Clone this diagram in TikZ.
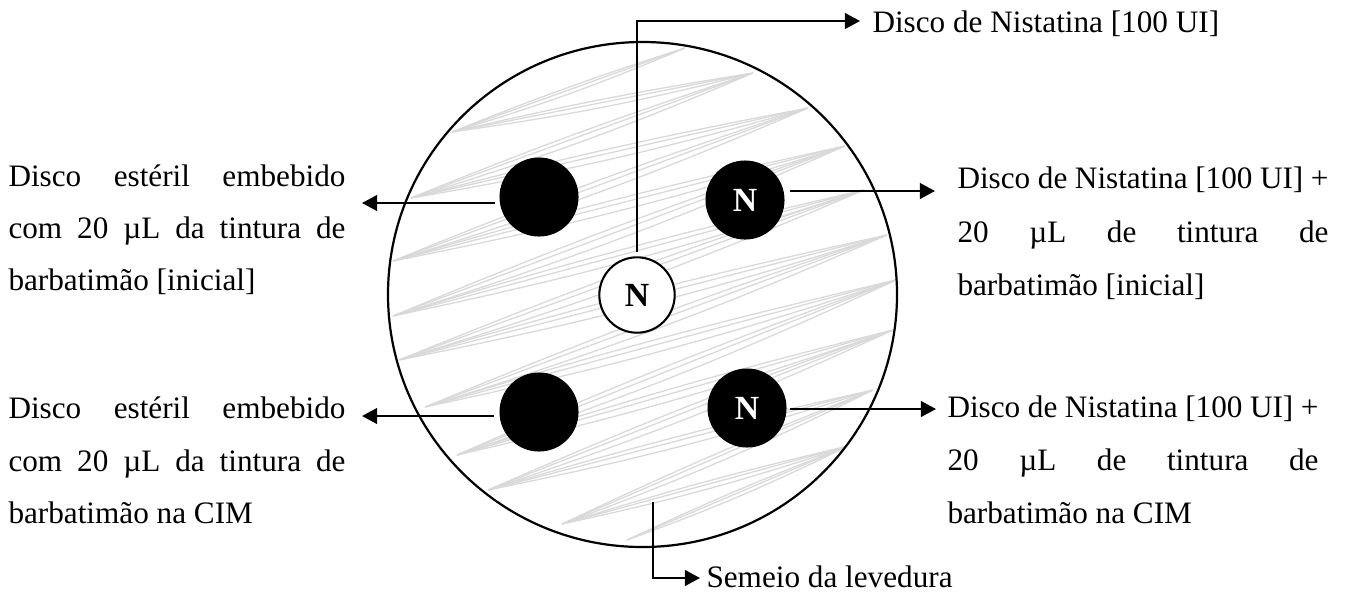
\documentclass[tikz,border=0pt]{standalone}
\usepackage{fontspec}
\setmainfont{Liberation Serif}
\usetikzlibrary{arrows.meta}
\begin{document}
\begin{tikzpicture}[x=0.3846pt,y=-0.3846pt,
  conn/.style={line width=0.85pt},
  arr/.style={conn,-{Triangle[length=5.8pt,width=6pt]}},
  blackdisc/.style={circle,fill=black,draw=black,minimum size=30pt,inner sep=0pt,text=white,font=\fontsize{13}{13}\selectfont\bfseries},
  whitedisc/.style={circle,fill=white,draw=black,line width=0.8pt,minimum size=29pt,inner sep=0pt,font=\fontsize{13}{13}\selectfont\bfseries},
  lbl/.style={anchor=base west,inner sep=0pt,font=\fontsize{12}{14}\selectfont},
  scrib/.style={draw=black!15,line width=0.5pt}]
\useasboundingbox (0,0) rectangle (1352,594);

% scribble (inoculum)
\begin{scope}
  \clip (642.5,294.5) ellipse (253.5 and 252);
  \draw[scrib] (685,48) -- (452,132) -- (753,73) -- (411,198) -- (808,108) -- (393,261)
    -- (845,146) -- (393,316) -- (864,190) -- (399,360) -- (887,235) -- (425,407)
    -- (896,280) -- (457,455) -- (893,330) -- (488,490) -- (873,390) -- (562,524)
    -- (848,446) -- (627,540);
  \draw[scrib] (685,48) to[bend left=3] (452,132) to[bend right=3] (753,73) to[bend left=3] (411,198)
    to[bend right=3] (808,108) to[bend left=3] (393,261) to[bend right=3] (845,146)
    to[bend left=3] (393,316) to[bend right=3] (864,190) to[bend left=3] (399,360)
    to[bend right=3] (887,235) to[bend left=3] (425,407) to[bend right=3] (896,280)
    to[bend left=3] (457,455) to[bend right=3] (893,330) to[bend left=3] (488,490)
    to[bend right=3] (873,390) to[bend left=3] (562,524) to[bend right=3] (848,446)
    to[bend left=3] (627,540);
  \draw[scrib] (685,48) to[bend right=2] (452,132) to[bend left=2] (753,73) to[bend right=2] (411,198)
    to[bend left=2] (808,108) to[bend right=2] (393,261) to[bend left=2] (845,146)
    to[bend right=2] (393,316) to[bend left=2] (864,190) to[bend right=2] (399,360)
    to[bend left=2] (887,235) to[bend right=2] (425,407) to[bend left=2] (896,280)
    to[bend right=2] (457,455) to[bend left=2] (893,330) to[bend right=2] (488,490)
    to[bend left=2] (873,390) to[bend right=2] (562,524) to[bend left=2] (848,446)
    to[bend right=2] (627,540);
\end{scope}

% plate
\draw[line width=0.85pt] (642.5,294.5) ellipse (254.5 and 252.5);

% discs
\node[blackdisc] (dul) at (539,197) {};
\node[blackdisc] (dll) at (539,412) {};
\node[blackdisc] (dur) at (745,200) {N};
\node[blackdisc] (dlr) at (747,408) {N};
\node[whitedisc] (dc) at (637,295) {N};

% connector coordinates
\coordinate (ulA) at (495,203); \coordinate (ulT) at (362,203);
\coordinate (llA) at (494,416); \coordinate (llT) at (362,416);
\coordinate (urA) at (790,191); \coordinate (urT) at (935,191);
\coordinate (lrA) at (790,409); \coordinate (lrT) at (936,409);
\coordinate (tT) at (860,21);
\coordinate (bA) at (653,502); \coordinate (bT) at (700,578);

\draw[arr] (ulA) -- (ulT);
\draw[arr] (llA) -- (llT);
\draw[arr] (urA) -- (urT);
\draw[arr] (lrA) -- (lrT);
\draw[arr] ([yshift=1.5pt]dc.north) |- (tT);
\draw[arr] (bA) |- (bT);

% labels
\node[lbl] (top) at (872,32) {Disco de Nistatina [100 UI]};
\node[lbl] (bot) at (706,587) {Semeio da levedura};

\node[lbl] (ul1) at (8,186) {\makebox[129.6pt][s]{Disco estéril embebido}};
\node[lbl] (ul2) at (8,238) {\makebox[129.6pt][s]{com 20 µL da tintura de}};
\node[lbl] (ul3) at (8,290) {barbatimão [inicial]};

\node[lbl] (ll1) at (8,418) {\makebox[129.6pt][s]{Disco estéril embebido}};
\node[lbl] (ll2) at (8,471) {\makebox[129.6pt][s]{com 20 µL da tintura de}};
\node[lbl] (ll3) at (8,523) {barbatimão na CIM};

\node[lbl] (ur1) at (957,188) {\makebox[142.7pt][s]{Disco de Nistatina [100 UI] +}};
\node[lbl] (ur2) at (957,242) {\makebox[142.7pt][s]{20 µL de tintura de}};
\node[lbl] (ur3) at (957,295) {barbatimão [inicial]};

\node[lbl] (lr1) at (947,417) {\makebox[142.7pt][s]{Disco de Nistatina [100 UI] +}};
\node[lbl] (lr2) at (947,470) {\makebox[142.7pt][s]{20 µL de tintura de}};
\node[lbl] (lr3) at (947,523) {barbatimão na CIM};
\end{tikzpicture}
\end{document}
